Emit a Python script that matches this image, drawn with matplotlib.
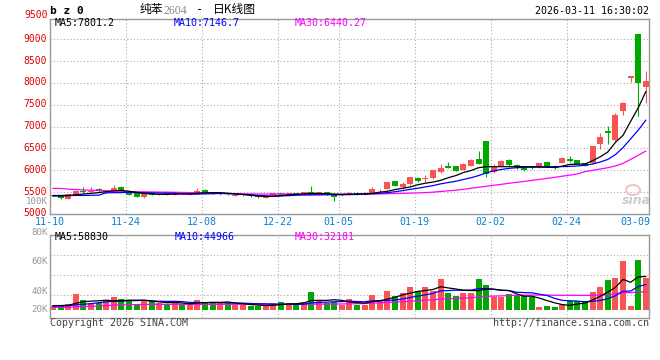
import matplotlib
matplotlib.use("Agg")
import matplotlib.pyplot as plt
import matplotlib.transforms as mtransforms
import numpy as np

# ---- data (79 trading days, 11-10 .. 03-10) ----
opens = [5415, 5420, 5350, 5443, 5534, 5504, 5572, 5496, 5534, 5626,
         5511, 5473, 5382, 5473, 5440, 5470, 5445, 5475, 5450, 5475,
         5560, 5480, 5450, 5470, 5420, 5425, 5430, 5415, 5365, 5440,
         5475, 5445, 5480, 5450, 5495, 5440, 5500, 5440, 5430, 5430,
         5490, 5440, 5470, 5565, 5572, 5755, 5626, 5679, 5835, 5794,
         5817, 5969, 6099, 6099, 6007, 6106, 6251, 6671, 5969, 6099,
         6236, 6122, 6083, 6099, 6068, 6198, 6106, 6175, 6251, 6236,
         6160, 6160, 6595, 6907, 6694, 7365, 8120, 9120, 7915]
highs = [5440, 5430, 5455, 5545, 5626, 5626, 5585, 5560, 5671, 5635,
         5520, 5480, 5480, 5490, 5475, 5480, 5480, 5485, 5480, 5600,
         5575, 5490, 5485, 5480, 5455, 5450, 5440, 5420, 5415, 5480,
         5485, 5480, 5490, 5505, 5650, 5515, 5510, 5450, 5455, 5500,
         5500, 5500, 5626, 5580, 5735, 5765, 5725, 5850, 5850, 5893,
         6015, 6145, 6198, 6110, 6160, 6250, 6442, 6680, 6145, 6230,
         6250, 6135, 6095, 6110, 6175, 6210, 6115, 6310, 6330, 6245,
         6170, 6565, 6847, 7014, 7320, 7560, 8160, 9125, 8280]
lows = [5405, 5350, 5340, 5435, 5490, 5495, 5510, 5488, 5525, 5525,
        5425, 5390, 5375, 5430, 5430, 5440, 5440, 5450, 5445, 5465,
        5480, 5450, 5445, 5445, 5410, 5415, 5395, 5355, 5355, 5430,
        5450, 5440, 5450, 5445, 5465, 5435, 5445, 5290, 5420, 5425,
        5445, 5435, 5465, 5510, 5565, 5640, 5565, 5670, 5740, 5725,
        5810, 5931, 6050, 5980, 6000, 6095, 6135, 5855, 5950, 6090,
        6110, 6030, 5995, 6035, 6060, 6095, 6030, 6165, 6195, 6135,
        6095, 6150, 6481, 6595, 6680, 7266, 8029, 7250, 7548]
closes = [5430, 5360, 5450, 5534, 5496, 5534, 5519, 5549, 5603, 5534,
          5435, 5397, 5473, 5435, 5465, 5450, 5470, 5455, 5470, 5530,
          5490, 5460, 5475, 5455, 5445, 5440, 5405, 5395, 5410, 5470,
          5460, 5470, 5460, 5495, 5470, 5505, 5455, 5400, 5445, 5490,
          5455, 5490, 5570, 5575, 5725, 5650, 5679, 5839, 5760, 5817,
          6007, 6045, 6061, 5992, 6145, 6236, 6145, 5916, 6083, 6213,
          6122, 6084, 6007, 6045, 6160, 6106, 6045, 6274, 6206, 6145,
          6106, 6556, 6755, 6862, 7266, 7548, 8155, 7991, 8044]

ma5 = [5412, 5412, 5420, 5440, 5458, 5473, 5490, 5510, 5530, 5540,
       5520, 5495, 5470, 5460, 5450, 5450, 5455, 5460, 5462, 5475,
       5485, 5488, 5488, 5475, 5460, 5445, 5430, 5412, 5400, 5405,
       5420, 5440, 5450, 5460, 5470, 5470, 5465, 5455, 5450, 5455,
       5455, 5462, 5473, 5500, 5520, 5560, 5590, 5620, 5670, 5705,
       5732, 5770, 5830, 5880, 5950, 5995, 6060, 6083, 6083, 6083,
       6083, 6083, 6083, 6080, 6075, 6070, 6065, 6095, 6135, 6140,
       6145, 6220, 6310, 6420, 6640, 6800, 7120, 7430, 7801]
ma10 = [5425, 5425, 5425, 5425, 5425, 5428, 5432, 5485, 5488, 5490,
        5492, 5490, 5490, 5485, 5480, 5478, 5478, 5460, 5455, 5455,
        5460, 5465, 5470, 5465, 5460, 5450, 5440, 5425, 5415, 5412,
        5415, 5420, 5430, 5435, 5435, 5438, 5440, 5440, 5440, 5445,
        5448, 5455, 5465, 5475, 5490, 5510, 5535, 5565, 5590, 5620,
        5650, 5690, 5720, 5750, 5790, 5830, 5880, 5940, 5990, 6020,
        6045, 6060, 6070, 6075, 6080, 6085, 6083, 6085, 6090, 6100,
        6115, 6145, 6190, 6250, 6360, 6520, 6720, 6920, 7147]
ma30 = [5587, 5585, 5570, 5560, 5550, 5545, 5540, 5530, 5525, 5520,
        5515, 5510, 5508, 5505, 5502, 5500, 5497, 5494, 5490, 5488,
        5485, 5480, 5475, 5470, 5466, 5462, 5460, 5458, 5456, 5455,
        5454, 5453, 5452, 5451, 5450, 5450, 5450, 5450, 5450, 5450,
        5450, 5452, 5456, 5460, 5465, 5470, 5474, 5478, 5482, 5490,
        5500, 5515, 5530, 5545, 5565, 5590, 5612, 5635, 5658, 5680,
        5703, 5725, 5747, 5770, 5792, 5815, 5840, 5865, 5890, 5918,
        5970, 6000, 6030, 6060, 6100, 6160, 6250, 6345, 6440]
ma_heads = ['7801.2', '7146.7', '6440.27']

volumes = [8370, 9520, 11250, 28560, 18180, 13560, 12400, 16440, 22790, 19900,
           18180, 11250, 16440, 16440, 12400, 11250, 13560, 11250, 9520, 18180,
           15290, 15290, 12400, 12400, 9520, 9520, 7790, 7790, 7790, 12400,
           15290, 13560, 9520, 15290, 32600, 16440, 13560, 15280, 9510, 19890,
           9510, 9510, 26810, 18160, 34310, 25080, 30850, 41230, 34310, 41230,
           34310, 54490, 30850, 25080, 30850, 30850, 54490, 44110, 22780, 22780,
           28540, 25080, 25080, 22780, 5480, 7780, 5480, 9510, 16430, 16430,
           16430, 32580, 41230, 52760, 56800, 85630, 7780, 87350, 55640]
vol_ma5 = [8400, 8600, 9000, 12400, 15200, 16200, 16800, 17800, 16700, 17000,
           17900, 17700, 17700, 16500, 14900, 13600, 14000, 13000, 11600, 12800,
           13600, 13900, 14100, 14700, 13000, 11800, 10300, 9400, 8500, 9100,
           10200, 11400, 11700, 13200, 17300, 17500, 17500, 18600, 17500, 14900,
           13600, 12700, 15050, 16780, 19660, 22770, 27040, 29930, 33160, 34540,
           36390, 41110, 39040, 37190, 35120, 34420, 34420, 37080, 36600, 35000,
           34500, 28700, 24800, 24800, 21400, 17200, 13300, 10200, 8900, 11100,
           12900, 18300, 24600, 31900, 39900, 53800, 48800, 58100, 58830]
vol_ma10 = [7800, 7800, 8200, 9800, 10800, 11800, 13500, 15000, 15800, 16100,
            17080, 17250, 17770, 16560, 15980, 15750, 15870, 15350, 14020, 13850,
            13560, 13960, 13560, 13150, 12870, 12690, 12120, 11770, 11600, 11020,
            11020, 10850, 10560, 10850, 13160, 13850, 14420, 15170, 15350, 16090,
            15520, 15110, 16840, 17130, 17300, 18160, 19890, 22490, 24970, 27100,
            29580, 34080, 34480, 35170, 34830, 35410, 37770, 38060, 36900, 35060,
            34480, 31540, 30960, 30730, 28200, 25890, 20990, 17530, 16890, 16260,
            15050, 15800, 17410, 20410, 25540, 33330, 33560, 41340, 44966]
vol_ma30 = [5500, 5500, 5600, 6600, 6800, 7200, 7800, 8500, 9500, 9800,
            10000, 10200, 10400, 10600, 10700, 10700, 10700, 10700, 10700, 10700,
            10700, 10700, 10700, 10700, 10700, 10700, 10700, 10650, 10600, 10600,
            10600, 10650, 10650, 10700, 10900, 11000, 11000, 11200, 11300, 11600,
            11800, 12000, 12700, 13200, 14000, 14600, 15300, 16100, 16900, 17800,
            18500, 19800, 20400, 20900, 21500, 22100, 23400, 24500, 24900, 25300,
            25800, 26200, 26600, 26900, 26700, 26600, 26400, 26300, 26300, 26200,
            26100, 26200, 26700, 27800, 29000, 31000, 30700, 32300, 32181]
vol_heads = ['58830', '44966', '32181']

tick_idx = [0, 10, 20, 30, 38, 48, 58, 68, 77]
tick_labels = ['11-10', '11-24', '12-08', '12-22', '01-05', '01-19', '02-02', '02-24', '03-09']
price_ticks = [5000, 5500, 6000, 6500, 7000, 7500, 8000, 8500, 9000]
vol_labels = ['100K', '80K', '60K', '40K', '20K']

RED = '#f85454'
GREEN = '#00a800'
GRID = '#aaaaaa'
BORDER = '#999999'
MONO = 'DejaVu Sans Mono'
CJK = ['Noto Sans CJK SC', 'DejaVu Sans']
W, H = 660, 360

def ftext(x, y, s, **kw):
    # text placed in reference pixel coordinates (y from top)
    kw.setdefault('family', MONO)
    kw.setdefault('fontsize', 7.2)
    kw.setdefault('va', 'center')
    fig.text(x / W, 1 - y / H, s, **kw)

fig = plt.figure(figsize=(6.6, 3.6), dpi=100)
ax = fig.add_axes([50 / W, 1 - 214 / H, 599.3 / W, 195 / H])
axv = fig.add_axes([50 / W, 1 - 318 / H, 599.3 / W, 83 / H])

o = np.array(opens); c = np.array(closes)
x = np.arange(len(c)) + 0.4
cols = np.where(c >= o, RED, GREEN)

for a in (ax, axv):
    for s in a.spines.values():
        s.set_color(BORDER)
        s.set_linewidth(1)
    a.set_xlim(0, 78.86)
    a.tick_params(length=0)
    for i in tick_idx[1:-1]:
        a.axvline(i, color=GRID, lw=0.8, ls=(0, (1, 2)), zorder=0)

# ---- price panel ----
ax.set_ylim(5000, 9465)
for p in price_ticks[1:]:
    ax.axhline(p, color=GRID, lw=0.8, ls=(0, (1, 2)), zorder=0)
ax.vlines(x, lows, highs, colors=cols, lw=0.8, zorder=2)
ax.bar(x, np.maximum(np.abs(c - o), 14), bottom=np.minimum(o, c), width=0.79,
       color=cols, linewidth=0, zorder=3)
ax.plot(x, ma30, color='#ff00ff', lw=0.9, zorder=4)
ax.plot(x, ma10, color='#0000ff', lw=0.9, zorder=4)
ax.plot(x, ma5, color='black', lw=0.9, zorder=4)
ax.set_yticks(price_ticks)
ax.set_yticklabels([str(p) for p in price_ticks], color='#e00000', family=MONO, fontsize=7)
ax.tick_params(axis='y', pad=2)
# price labels sit a little above their grid lines, as in the reference
lift = mtransforms.ScaledTranslation(0, 1.5 / 100, fig.dpi_scale_trans)
for lab in ax.get_yticklabels():
    lab.set_transform(lab.get_transform() + lift)
ax.set_xticks(tick_idx)
ax.set_xticklabels(tick_labels, color='#0a80d0', family=MONO, fontsize=7.2)
ax.tick_params(axis='x', pad=2.5)

# ---- volume panel ----
axv.set_ylim(-12975, 130600)
for f in (0.759, 0.518, 0.277):
    axv.plot([0, 1], [f, f], transform=axv.transAxes, color=GRID, lw=0.8,
             ls=(0, (1, 2)), zorder=0)
axv.bar(x, volumes, width=0.79, color=cols, linewidth=0, zorder=2)
axv.plot(x, vol_ma30, color='#ff00ff', lw=0.9, zorder=3)
axv.plot(x, vol_ma10, color='#0000ff', lw=0.9, zorder=3)
axv.plot(x, vol_ma5, color='black', lw=0.9, zorder=3)
axv.set_xticks([])
axv.set_yticks([])

# ---- texts ----
ftext(48, 15.5, '9500', color='#e00000', fontsize=7, ha='right')
for lbl, yy in zip(vol_labels, [201.5, 232.5, 261, 291, 310]):
    ftext(48, yy, lbl, color='#999999', fontsize=6.6, ha='right')

ftext(50, 11, 'b z 0', fontsize=8, weight='bold', ha='left')
ftext(140, 10, '纯苯', family=CJK, fontsize=8.5, ha='left')
ftext(163, 10.5, '2604', family='Liberation Serif', fontsize=8.5, color='#888888', ha='left')
ftext(200, 10, '-', fontsize=8.5, ha='center')
ftext(213, 10, '日K线图', family=CJK, fontsize=8.5, ha='left')
ftext(649, 11.5, '2026-03-11 16:30:02', ha='right')

ftext(55, 23.5, 'MA5:' + ma_heads[0], color='black', ha='left')
ftext(174, 23.5, 'MA10:' + ma_heads[1], color='#0000ff', ha='left')
ftext(295, 23.5, 'MA30:' + ma_heads[2], color='#ff00ff', ha='left')
ftext(55, 236.5, 'MA5:' + vol_heads[0], color='black', ha='left')
ftext(175, 236.5, 'MA10:' + vol_heads[1], color='#0000ff', ha='left')
ftext(295, 236.5, 'MA30:' + vol_heads[2], color='#ff00ff', ha='left')

ftext(50, 323, 'Copyright 2026 SINA.COM', color='#444444', ha='left')
ftext(649, 323, 'http://finance.sina.com.cn', color='#444444', ha='right')

# sina watermark
fig.patches.append(matplotlib.patches.Ellipse((633 / W, 1 - 190 / H), 14 / W, 10 / H,
                   transform=fig.transFigure, facecolor='none', edgecolor='#f5c4c4', lw=1.5))
ftext(636, 200, 'sina', family='DejaVu Sans', fontsize=9, style='italic',
      weight='bold', color='#cccccc', ha='center')

fig.savefig('out.png', dpi=100, facecolor='white')
